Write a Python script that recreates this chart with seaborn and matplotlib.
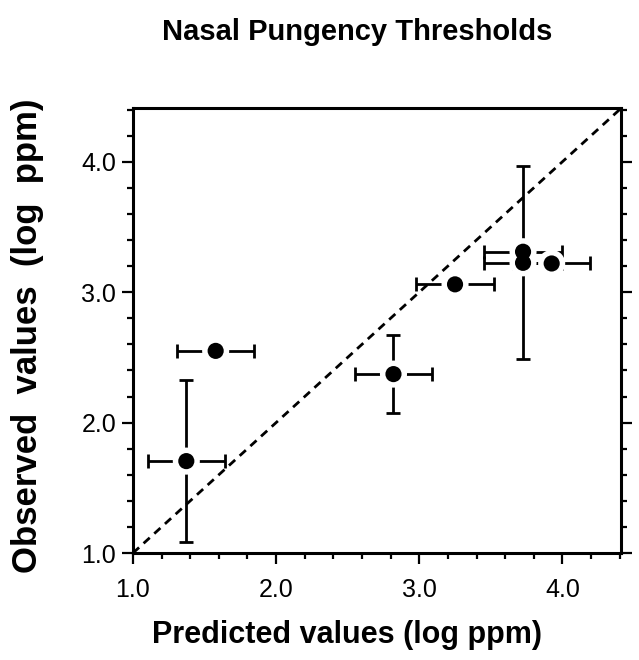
import matplotlib
matplotlib.use("Agg")
import matplotlib.pyplot as plt
from matplotlib.ticker import MultipleLocator, FormatStrFormatter
import seaborn as sns
import pandas as pd

# Data
predicted = [1.373, 1.578, 2.82, 3.25, 3.725, 3.725, 3.925]
observed = [1.705, 2.55, 2.372, 3.06, 3.31, 3.225, 3.22]
x_err = [0.27, 0.27, 0.27, 0.27, 0.27, 0.27, 0.27]
y_err = [0.62, 0.0, 0.30, 0.0, 0.0, 0.74, 0.0]
tick_values = [1.0, 2.0, 3.0, 4.0]
axis_limits = [1.0, 4.41]

df = pd.DataFrame({"pred": predicted, "obs": observed, "xe": x_err, "ye": y_err})

sns.set_style("ticks")
plt.rcParams["font.family"] = ["Liberation Sans", "DejaVu Sans"]
plt.rcParams["text.color"] = "black"
plt.rcParams["axes.labelcolor"] = "black"
plt.rcParams["xtick.color"] = "black"
plt.rcParams["ytick.color"] = "black"

fig = plt.figure(figsize=(6.39, 6.6), dpi=100)
ax = fig.add_axes([0.208, 0.162, 0.764, 0.674])

# identity line
ax.plot(axis_limits, axis_limits, ls=(0, (3, 2.2)), color="black", lw=2, zorder=1)

# error bars
for _, r in df.iterrows():
    ax.errorbar(r.pred, r.obs, xerr=r.xe if r.xe > 0 else None,
                yerr=r.ye if r.ye > 0 else None, fmt="none",
                ecolor="black", elinewidth=2, capsize=5, capthick=2, zorder=2)

# white halo then black markers
sns.scatterplot(data=df, x="pred", y="obs", ax=ax, s=380, color="white",
                edgecolor="none", linewidth=0, zorder=3, legend=False)
sns.scatterplot(data=df, x="pred", y="obs", ax=ax, s=135, color="black",
                edgecolor="none", linewidth=0, zorder=4, legend=False)

ax.set_xlim(axis_limits)
ax.set_ylim(axis_limits)
ax.xaxis.set_minor_locator(MultipleLocator(0.2))
ax.yaxis.set_minor_locator(MultipleLocator(0.2))
ax.set_xticks(tick_values)
ax.set_yticks(tick_values)
ax.xaxis.set_major_formatter(FormatStrFormatter("%.1f"))
ax.yaxis.set_major_formatter(FormatStrFormatter("%.1f"))

for s in ax.spines.values():
    s.set_linewidth(2.2)
    s.set_color("black")

ax.tick_params(which="both", direction="out", left=True, bottom=True,
               right=True, top=False, labelright=False, width=1.6, color="black")
ax.tick_params(which="major", length=8, labelsize=18)
ax.tick_params(axis="x", which="major", pad=10)
ax.tick_params(axis="y", which="major", pad=4)
ax.tick_params(which="minor", length=4.5)

ax.set_xlabel("Predicted values (log ppm)", fontsize=22, fontweight="bold")
ax.xaxis.set_label_coords((347 - 133) / (621 - 133), (553 - 635) / (553 - 108),
                          transform=ax.transAxes)
ax.xaxis.label.set_va("center")
ax.set_ylabel("Observed  values  (log  ppm)", fontsize=25, fontweight="bold")
ax.yaxis.set_label_coords((28 - 133) / (621 - 133), (553 - 336) / (553 - 108),
                          transform=ax.transAxes)
ax.yaxis.label.set_va("center")
fig.text(357 / 639, 1 - 40 / 660, "Nasal Pungency Thresholds", ha="center", va="baseline",
         fontsize=21, fontweight="bold")

fig.savefig("out.png", dpi=100, facecolor="white")
